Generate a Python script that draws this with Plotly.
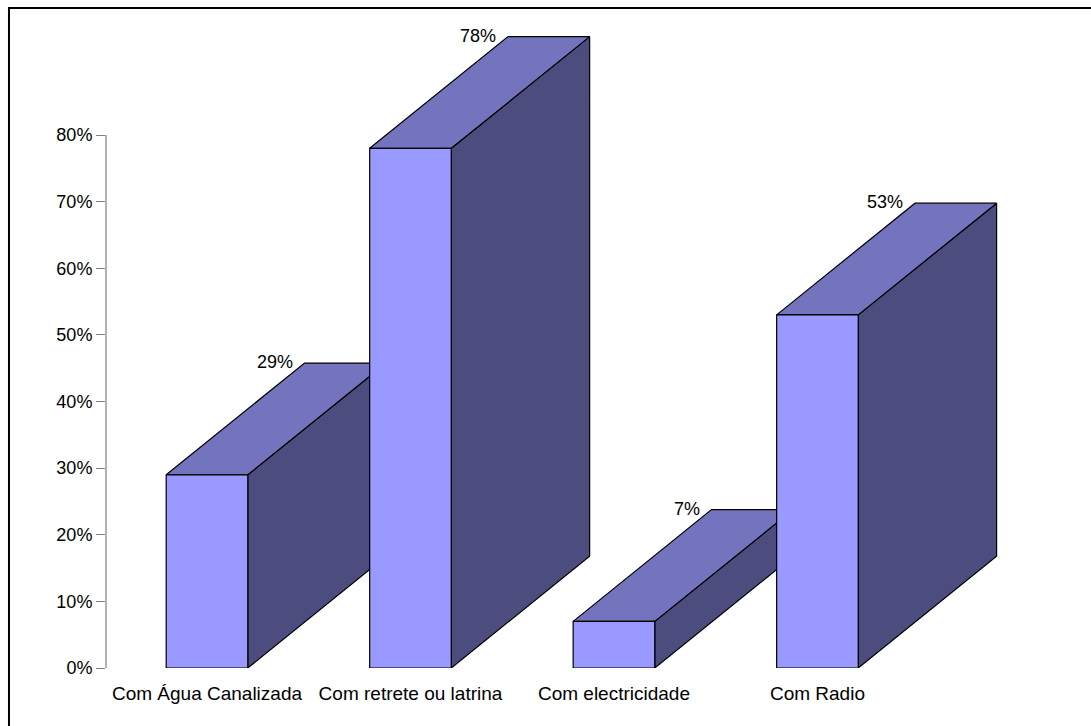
import plotly.graph_objects as go

# Household amenities (percentage of households)
categories = ["Com Água Canalizada", "Com retrete ou latrina", "Com electricidade", "Com Radio"]
values = [29, 78, 7, 53]
value_labels = ["29%", "78%", "7%", "53%"]
y_tick_vals = [0, 10, 20, 30, 40, 50, 60, 70, 80]
y_tick_text = ["0%", "10%", "20%", "30%", "40%", "50%", "60%", "70%", "80%"]

FRONT = "#9999FF"
TOP = "#7474BE"
SIDE = "#4C4C7E"
FONT = "Liberation Sans, Arial, sans-serif"

half_w = 0.2005   # half width of the front face (category units)
depth_x = 0.680   # oblique depth, horizontal (category units)
depth_y = 16.77   # oblique depth, vertical (percentage units)

fig = go.Figure()


def face(xs, ys, color):
    fig.add_trace(go.Scatter(
        x=xs + [xs[0]], y=ys + [ys[0]], mode="lines", fill="toself",
        fillcolor=color, line=dict(color="black", width=1.2),
        hoverinfo="skip", showlegend=False))


for i, v in enumerate(values):
    l, r = i - half_w, i + half_w
    # right side face
    face([r, r + depth_x, r + depth_x, r], [0, depth_y, v + depth_y, v], SIDE)
    # top face
    face([l, r, r + depth_x, l + depth_x], [v, v, v + depth_y, v + depth_y], TOP)
    # front face
    face([l, r, r, l], [0, 0, v, v], FRONT)
    fig.add_annotation(x=l + depth_x, y=v + depth_y, text=value_labels[i],
                       showarrow=False, xanchor="right", yanchor="middle",
                       xshift=-10, yshift=1,
                       font=dict(family=FONT, size=18, color="black"))

# vertical axis line from 0% to 80%
fig.add_shape(type="line", xref="paper", yref="y", x0=0, x1=0, y0=0, y1=80,
              line=dict(color="#808080", width=1.2))
# chart frame
fig.add_shape(type="rect", xref="paper", yref="paper",
              x0=-0.1017, x1=1.2, y0=-0.3, y1=1.0345,
              line=dict(color="black", width=2), layer="below")

fig.update_layout(
    width=1091, height=726,
    margin=dict(l=106, r=31, t=30, b=58),
    paper_bgcolor="white", plot_bgcolor="white",
    font=dict(family=FONT, size=18, color="black"),
    showlegend=False,
    xaxis=dict(range=[-0.4963, 4.192], tickvals=[0, 1, 2, 3], ticktext=categories,
               showgrid=False, zeroline=False, showline=False, ticks="",
               ticklabelstandoff=12,
               tickfont=dict(family=FONT, size=19, color="black")),
    yaxis=dict(range=[0, 95.76], tickvals=y_tick_vals, ticktext=y_tick_text,
               showgrid=False, zeroline=False, showline=False,
               ticks="outside", ticklen=9, tickcolor="#808080", tickwidth=1.2,
               tickfont=dict(family=FONT, size=18, color="black")),
)

fig.write_html("out.html")
